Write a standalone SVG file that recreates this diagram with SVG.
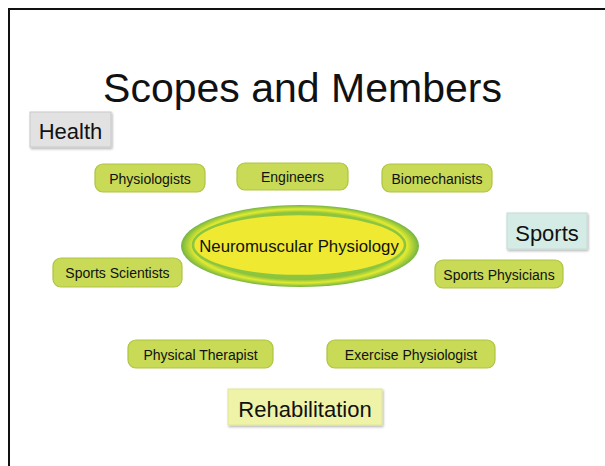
<svg xmlns="http://www.w3.org/2000/svg" width="605" height="466" viewBox="0 0 605 466">
<defs>
<style>
.t{font-family:"Liberation Sans",Arial,sans-serif;fill:#111;text-anchor:middle}
.s{font-size:14px}
.b{font-size:22px}
.m{fill:#c8da56;stroke:#afc443;stroke-width:1.2}
</style>
<filter id="sh" x="-10%" y="-10%" width="125%" height="135%">
<feDropShadow dx="1" dy="1.5" stdDeviation="0.8" flood-color="#000" flood-opacity="0.3"/>
</filter>
<radialGradient id="og" cx="0.5" cy="0.5" r="0.5">
<stop offset="0.82" stop-color="#8cc43e"/>
<stop offset="0.9" stop-color="#e2ea2e"/>
<stop offset="1" stop-color="#72b443"/>
</radialGradient>
</defs>
<rect x="9" y="9" width="620" height="480" fill="#fff" stroke="#111" stroke-width="2"/>
<text class="t" x="302.5" y="102" style="font-size:41px">Scopes and Members</text>
<g id="connectors"/>
<g id="health"><rect x="30" y="112" width="81" height="35" fill="#e2e2e2" stroke="#c9c9c9" filter="url(#sh)"/><text class="t b" x="70.5" y="139">Health</text></g>
<g id="sports"><rect x="507" y="213" width="80" height="36" fill="#d5ece6" stroke="#c2dcd4" filter="url(#sh)"/><text class="t b" x="547" y="241">Sports</text></g>
<g id="rehabilitation"><rect x="228" y="389" width="154" height="36" fill="#eef3a8" stroke="#dfe69a" filter="url(#sh)"/><text class="t b" x="305" y="417">Rehabilitation</text></g>
<g id="neuromuscular"><ellipse cx="300" cy="246" rx="119" ry="41" fill="url(#og)"/><ellipse cx="299" cy="245" rx="106" ry="31" fill="#efe932" stroke="#8cc540" stroke-width="2.5"/><text class="t" x="299" y="252" style="font-size:16.8px">Neuromuscular Physiology</text></g>
<g id="physiologists"><rect class="m" x="95" y="164" width="110" height="28" rx="8"/><text class="t s" x="150" y="183.5">Physiologists</text></g>
<g id="engineers"><rect class="m" x="237" y="163" width="111" height="27" rx="8"/><text class="t s" x="292.5" y="182">Engineers</text></g>
<g id="biomechanists"><rect class="m" x="382" y="164" width="110" height="28" rx="8"/><text class="t s" x="437" y="183.5">Biomechanists</text></g>
<g id="sports-scientists"><rect class="m" x="53" y="258" width="129" height="29" rx="8"/><text class="t s" x="117.5" y="277.5">Sports Scientists</text></g>
<g id="sports-physicians"><rect class="m" x="435" y="260" width="128" height="28" rx="8"/><text class="t s" x="499" y="279.5">Sports Physicians</text></g>
<g id="physical-therapist"><rect class="m" x="128" y="340" width="145" height="28" rx="8"/><text class="t s" x="200.5" y="359.5">Physical Therapist</text></g>
<g id="exercise-physiologist"><rect class="m" x="327" y="340" width="168" height="28" rx="8"/><text class="t s" x="411" y="359.5">Exercise Physiologist</text></g>
</svg>
